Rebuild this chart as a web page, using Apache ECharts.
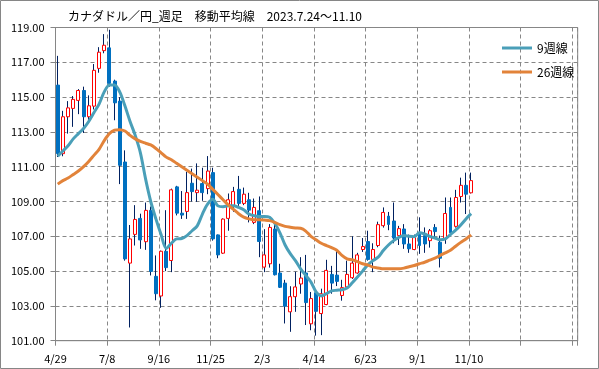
<!DOCTYPE html>
<html>
<head>
<meta charset="utf-8">
<script src="https://cdn.jsdelivr.net/npm/echarts@6/dist/echarts.min.js"></script>
<style>
  html, body { margin: 0; padding: 0; background: #fff; }
  #chart { width: 599px; height: 369px; }
</style>
</head>
<body>
<div id="chart"></div>
<script>
// Weekly candles (first candle is the week starting Mon 2022-05-02; axis origin Fri 4/29)
const open = [115.69,111.75,113.87,114.35,114.81,115.38,113.87,114.48,116.65,117.67,
  117.83,115.92,114.77,111.27,105.46,107.11,108.03,106.69,108.49,104.70,
  103.57,106.14,105.61,109.84,108.33,108.43,110.05,109.51,110.03,109.74,
  110.66,107.08,106.03,108.03,108.75,109.70,108.89,109.10,107.80,108.47,
  105.23,105.42,107.42,104.89,104.31,102.66,103.53,104.26,104.89,101.97,
  103.76,102.56,103.08,104.81,104.77,103.60,104.09,104.62,104.89,106.24,
  106.70,105.67,106.47,107.61,108.16,107.88,107.04,107.42,106.56,106.24,
  107.23,107.04,106.75,107.51,106.66,106.85,108.66,107.57,109.29,109.93,
  109.50];
const close = [111.75,113.87,114.38,114.87,115.38,113.87,114.50,116.54,117.58,117.98,
  115.79,114.67,111.08,105.70,106.85,107.97,106.79,108.49,104.98,103.70,
  106.14,105.20,109.67,108.33,108.22,109.51,109.57,109.65,109.51,110.75,
  106.85,105.93,107.99,109.10,109.57,108.89,109.42,108.50,108.66,106.70,
  105.93,107.51,104.79,104.07,102.98,103.53,104.09,104.60,103.19,103.42,
  102.69,103.70,105.04,104.31,104.41,104.05,104.81,105.46,105.93,106.41,
  105.67,106.24,107.67,108.37,107.68,106.90,107.44,106.56,106.28,106.94,
  106.47,106.56,107.32,107.27,105.74,108.31,107.20,109.23,109.93,109.42,
  110.20];
const low = [111.56,111.60,112.90,113.29,114.02,112.94,113.67,114.29,116.40,117.52,
  115.60,113.67,110.00,105.60,101.76,106.47,106.28,106.22,104.75,103.32,
  102.89,105.00,104.94,108.20,108.00,108.00,109.00,108.98,109.04,109.42,
  106.75,105.74,105.99,107.32,108.41,108.75,108.79,107.80,107.70,105.80,
  104.94,105.20,104.75,104.03,101.99,101.51,102.66,103.70,101.90,101.60,
  101.29,101.32,103.04,103.70,104.14,103.30,104.00,104.55,104.85,106.10,
  105.60,104.94,106.37,107.50,107.35,106.60,106.50,106.28,106.05,106.20,
  105.99,106.05,106.35,106.95,105.21,106.57,107.10,107.50,108.94,108.28,
  109.46];
const high = [117.37,114.21,114.77,115.06,115.46,115.60,115.10,116.90,117.87,118.62,
  118.87,116.00,115.00,111.94,107.65,108.79,108.30,108.94,108.71,105.90,
  106.18,108.50,109.74,109.90,109.60,110.70,110.89,111.19,110.94,111.61,
  110.94,107.10,108.03,109.46,109.84,110.47,109.80,109.50,109.17,109.29,
  107.41,107.70,107.67,105.42,104.50,104.13,104.96,105.80,105.93,103.80,
  103.90,103.99,105.65,105.30,106.24,104.50,105.60,107.00,106.05,106.90,
  107.32,106.60,107.84,108.66,108.40,108.94,107.60,107.70,107.10,107.10,
  108.09,107.51,107.42,107.70,107.04,109.23,109.23,109.67,110.37,110.66,
  110.66];
const ma9 = [111.6,111.9,112.2,112.6,112.9,113.2,113.6,114.1,114.6,115.3,
  115.7,115.7,115.3,114.5,113.6,112.8,111.8,110.3,109.0,108.0,
  107.1,106.3,106.6,106.85,106.87,107.04,107.32,107.6,108.28,108.85,
  109.13,108.75,108.7,108.75,108.75,108.66,108.52,108.28,108.18,108.14,
  108.14,108.09,107.75,107.2,106.5,106.0,105.6,105.13,104.75,104.37,
  103.8,103.57,103.7,103.86,103.9,103.93,104.03,104.33,104.66,105.0,
  105.36,105.6,105.8,106.18,106.5,106.75,106.94,107.04,107.0,106.98,
  107.2,107.13,107.0,106.9,106.8,106.85,107.1,107.35,107.65,108.0,
  108.3];
const ma26 = [110.0,110.2,110.35,110.55,110.75,111.0,111.3,111.65,112.0,112.5,
  112.9,113.1,113.13,113.05,112.8,112.6,112.45,112.35,112.25,112.05,
  111.8,111.55,111.4,111.2,111.0,110.8,110.6,110.4,110.2,110.0,
  109.7,109.4,109.1,108.8,108.55,108.3,108.1,108.0,107.95,107.95,
  107.93,107.9,107.8,107.67,107.57,107.52,107.48,107.46,107.3,107.0,
  106.8,106.6,106.47,106.35,106.2,105.9,105.7,105.65,105.55,105.42,
  105.35,105.23,105.18,105.13,105.13,105.13,105.13,105.17,105.25,105.32,
  105.42,105.51,105.63,105.74,105.9,106.05,106.2,106.43,106.65,106.85,
  107.08];
// x-axis tick labels every 10 weeks from Fri 2022-04-29
const xTickLabels = ['4/29','7/8','9/16','11/25','2/3','4/14','6/23','9/1','11/10','',''];
const seriesNames = ['9週線','26週線'];
const titleText = 'カナダドル／円_週足　移動平均線　2023.7.24～11.10';

const dayOffset = 3 / 7; // Monday after the Friday tick
const xPos = i => i + dayOffset;

const wicks = low.map((l, i) => [xPos(i), l, high[i], l, high[i]]);
const bodies = open.map((o, i) => [xPos(i), o, close[i], Math.min(o, close[i]), Math.max(o, close[i])]);
const ma9Data = ma9.map((v, i) => [xPos(i), v]);
const ma26Data = ma26.map((v, i) => [xPos(i), v]);

const FONT = '"Noto Sans CJK JP", "Noto Sans", sans-serif';
const GRID_COLOR = '#878787';

const chart = echarts.init(document.getElementById('chart'), null, { renderer: 'canvas' });
chart.setOption({
  animation: false,
  backgroundColor: '#ffffff',
  textStyle: { fontFamily: FONT },
  title: {
    text: titleText,
    left: 63, top: 5,
    textStyle: { fontSize: 12, fontWeight: 'normal', color: '#000', fontFamily: FONT }
  },
  legend: {
    data: seriesNames,
    orient: 'vertical',
    left: 497, top: 36,
    itemWidth: 30, itemHeight: 3, itemGap: 10,
    icon: 'rect',
    textStyle: { fontSize: 12, color: '#000', fontFamily: FONT, lineHeight: 14 }
  },
  graphic: [{
    type: 'rect', silent: true,
    shape: { x: 0.5, y: 0.5, width: 598, height: 368 },
    style: { fill: 'none', stroke: '#868686', lineWidth: 1 }
  }],
  grid: {
    left: 55.5, right: 21.3, top: 27.5, bottom: 28.3,
    show: true, borderColor: '#868686', borderWidth: 1, backgroundColor: 'transparent'
  },
  xAxis: {
    type: 'value',
    min: 0, max: 101.05, interval: 10,
    axisLine: { show: true, lineStyle: { color: '#868686', width: 1 } },
    axisTick: { show: true, length: 5, lineStyle: { color: '#868686' } },
    axisLabel: {
      margin: 13, fontSize: 11, color: '#000', fontFamily: FONT,
      showMinLabel: true, showMaxLabel: true,
      formatter: v => {
        const k = Math.round(v / 10);
        return Math.abs(v - k * 10) < 1e-6 ? (xTickLabels[k] || '') : '';
      }
    },
    splitLine: { show: true, lineStyle: { color: GRID_COLOR, type: [4, 3], width: 1 } }
  },
  yAxis: {
    type: 'value',
    min: 101, max: 119, interval: 2,
    axisLine: { show: true, lineStyle: { color: '#868686', width: 1 } },
    axisTick: { show: true, length: 5, lineStyle: { color: '#868686' } },
    axisLabel: {
      margin: 11, fontSize: 11, color: '#000', fontFamily: FONT,
      formatter: v => v.toFixed(2)
    },
    splitLine: { show: true, lineStyle: { color: GRID_COLOR, type: [4, 3], width: 1 } }
  },
  series: [
    {
      name: 'wick', type: 'candlestick', data: wicks,
      encode: { x: 0, y: [1, 2, 3, 4] },
      barWidth: 1,
      itemStyle: { color: '#002060', color0: '#002060', borderColor: '#002060', borderColor0: '#002060', borderWidth: 1 },
      emphasis: { disabled: true }, silent: true, z: 2
    },
    {
      name: 'body', type: 'candlestick', data: bodies,
      encode: { x: 0, y: [1, 2, 3, 4] },
      barWidth: 3.4,
      itemStyle: { color: '#ffffff', color0: '#0070C0', borderColor: '#FF0000', borderColor0: '#0070C0', borderWidth: 1 },
      emphasis: { disabled: true }, silent: true, z: 3
    },
    {
      name: seriesNames[0], type: 'line', data: ma9Data,
      symbol: 'none', smooth: 0.3,
      lineStyle: { color: '#4a9fb8', width: 3 }, itemStyle: { color: '#4a9fb8' }, z: 4
    },
    {
      name: seriesNames[1], type: 'line', data: ma26Data,
      symbol: 'none', smooth: 0.3,
      lineStyle: { color: '#e2833a', width: 3 }, itemStyle: { color: '#e2833a' }, z: 4
    }
  ]
});
</script>
</body>
</html>
